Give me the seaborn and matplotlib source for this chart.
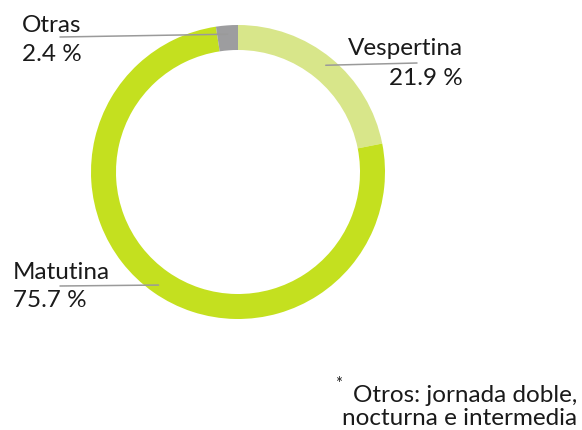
import numpy as np
import matplotlib
matplotlib.use("Agg")
import matplotlib.pyplot as plt
import seaborn as sns

# Data
categories = ["Vespertina", "Matutina", "Otras"]
values = [21.9, 75.7, 2.4]
colors = ["#d8e68a", "#c4e01f", "#9d9d9f"]

sns.set_theme(style="white")
plt.rcParams['font.family'] = ['Lato', 'DejaVu Sans']

W, H = 582, 430
fig = plt.figure(figsize=(W / 100, H / 100), dpi=100)
cx, cy, R = 238, 172, 147
ax = fig.add_axes([(cx - R) / W, (H - cy - R) / H, 2 * R / W, 2 * R / H])

wedges, _ = ax.pie(values, colors=colors, startangle=90, counterclock=False,
                   wedgeprops=dict(width=0.17, linewidth=0), radius=1.0)
ax.set_xlim(-1, 1)
ax.set_ylim(-1, 1)
ax.set_aspect("equal")
ax.axis("off")

FS = 17.5
TXT = "#1a1a1a"


def to_data(px, py):
    return (px - cx) / R, (cy - py) / R


# label anchors (pixels): line end, text x, baselines, alignment
label_cfg = {
    "Otras": dict(line_end=(60, 37), x=22, base=(32, 61), ha="left"),
    "Vespertina": dict(line_end=(417, 63), x=463, base=(55, 85), ha="right"),
    "Matutina": dict(line_end=(60, 286), x=13, base=(279, 307), ha="left"),
}

for w, cat, val in zip(wedges, categories, values):
    ang = np.deg2rad((w.theta1 + w.theta2) / 2)
    r = 0.94
    x0, y0 = r * np.cos(ang), r * np.sin(ang)
    cfg = label_cfg[cat]
    x1, y1 = to_data(*cfg["line_end"])
    ax.plot([x0, x1], [y0, y1], color="#9a9a9a", lw=1.1, clip_on=False)
    tx, ty1 = to_data(cfg["x"], cfg["base"][0])
    _, ty2 = to_data(cfg["x"], cfg["base"][1])
    ax.text(tx, ty1, cat, ha=cfg["ha"], va="baseline", fontsize=FS,
            color=TXT, clip_on=False)
    ax.text(tx, ty2, f"{val} %", ha=cfg["ha"], va="baseline", fontsize=FS,
            color=TXT, clip_on=False)

# footnote
fig.text(577 / W, 1 - 402 / H, "Otros: jornada doble,", ha="right", va="baseline",
         fontsize=FS, color=TXT)
fig.text(335 / W, 1 - 389 / H, "*", ha="left", va="baseline",
         fontsize=12, color=TXT)
fig.text(577 / W, 1 - 425 / H, "nocturna e intermedia", ha="right", va="baseline",
         fontsize=FS, color=TXT)

fig.savefig("out.png", dpi=100)
